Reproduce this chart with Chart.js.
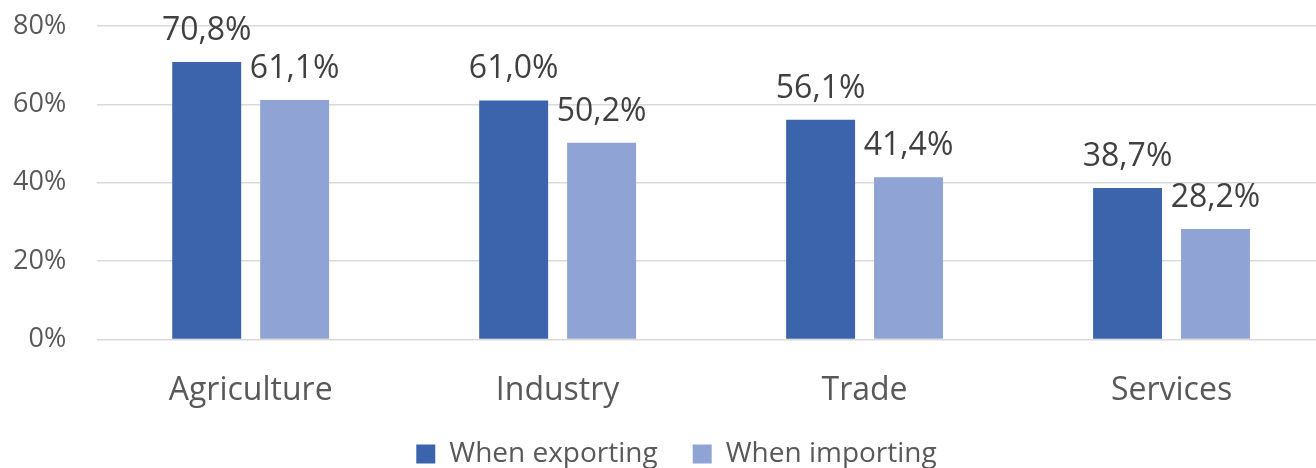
<!DOCTYPE html>
<html lang="en">
<head>
<meta charset="UTF-8" />
<title>Exporting vs importing by sector</title>
<script src="https://cdn.jsdelivr.net/npm/chart.js"></script>
<style>
    html, body { margin: 0; padding: 0; background: #fff; overflow: hidden; }
    /* slightly larger than the window, the plot's right edge and the legend's bottom run off-screen */
    #chartContainer { width: 1325px; height: 507px; }
</style>
</head>
<body>
<div id="chartContainer">
    <canvas id="sectorChart"></canvas>
</div>
<script>
    const sectors = ['Agriculture', 'Industry', 'Trade', 'Services'];
    const exportingShare = [70.8, 61.0, 56.1, 38.7];
    const importingShare = [61.1, 50.2, 41.4, 28.2];
    const seriesNames = ['When exporting', 'When importing'];
    const yTicks = [0, 20, 40, 60, 80];

    const FONT = "'Open Sans', 'Noto Sans', sans-serif";

    // decimal comma, one digit
    function pct(v) {
        return v.toFixed(1).replace('.', ',') + '%';
    }

    // value labels above each bar
    const valueLabels = {
        id: 'valueLabels',
        afterDatasetsDraw(chart) {
            const ctx = chart.ctx;
            ctx.save();
            ctx.font = '32px ' + FONT;
            ctx.fillStyle = '#404040';
            ctx.textAlign = 'center';
            ctx.textBaseline = 'alphabetic';
            chart.data.datasets.forEach((ds, i) => {
                chart.getDatasetMeta(i).data.forEach((bar, j) => {
                    ctx.fillText(pct(ds.data[j]), bar.x, bar.y - 22);
                });
            });
            ctx.restore();
        }
    };

    // legend padding is wide between items; lift the row up so it sits closer to the axis
    // and nudge it right a little
    const legendNudge = {
        id: 'legendNudge',
        afterLayout(chart) {
            const lg = chart.legend;
            lg.top -= 29;
            lg.bottom -= 29;
            lg.left += 23;
            lg.right += 23;
        }
    };

    Chart.defaults.font.family = FONT;
    Chart.defaults.color = '#595959';

    const ctx = document.getElementById('sectorChart').getContext('2d');
    new Chart(ctx, {
        type: 'bar',
        data: {
            labels: sectors,
            datasets: [
                {
                    label: seriesNames[0],
                    data: exportingShare,
                    backgroundColor: '#3C64AD'
                },
                {
                    label: seriesNames[1],
                    data: importingShare,
                    backgroundColor: '#8FA3D4'
                }
            ]
        },
        options: {
            responsive: true,
            maintainAspectRatio: false,
            animation: false,
            datasets: {
                bar: {
                    categoryPercentage: 0.573,
                    barPercentage: 0.784
                }
            },
            layout: {
                padding: { left: -18, top: 26, right: 0, bottom: 0 }
            },
            scales: {
                x: {
                    grid: { display: false },
                    border: { display: false },
                    ticks: { font: { size: 32 }, padding: 24, color: '#595959' }
                },
                y: {
                    min: 0,
                    max: 80,
                    afterBuildTicks: scale => {
                        scale.ticks = yTicks.map(v => ({ value: v }));
                    },
                    // the label gap is horizontal only, keep it out of the top/bottom room
                    afterFit: scale => {
                        scale.paddingTop = 0;
                        scale.paddingBottom = 0;
                    },
                    grid: { color: '#D9D9D9', lineWidth: 1.5, drawTicks: false },
                    border: { display: false },
                    ticks: {
                        font: { size: 27 },
                        padding: 31,
                        color: '#595959',
                        callback: v => v + '%'
                    }
                }
            },
            plugins: {
                legend: {
                    position: 'bottom',
                    labels: {
                        font: { size: 28 },
                        color: '#595959',
                        boxWidth: 19,
                        boxHeight: 19,
                        padding: 35
                    }
                },
                tooltip: { enabled: false }
            }
        },
        plugins: [valueLabels, legendNudge]
    });
</script>
</body>
</html>
